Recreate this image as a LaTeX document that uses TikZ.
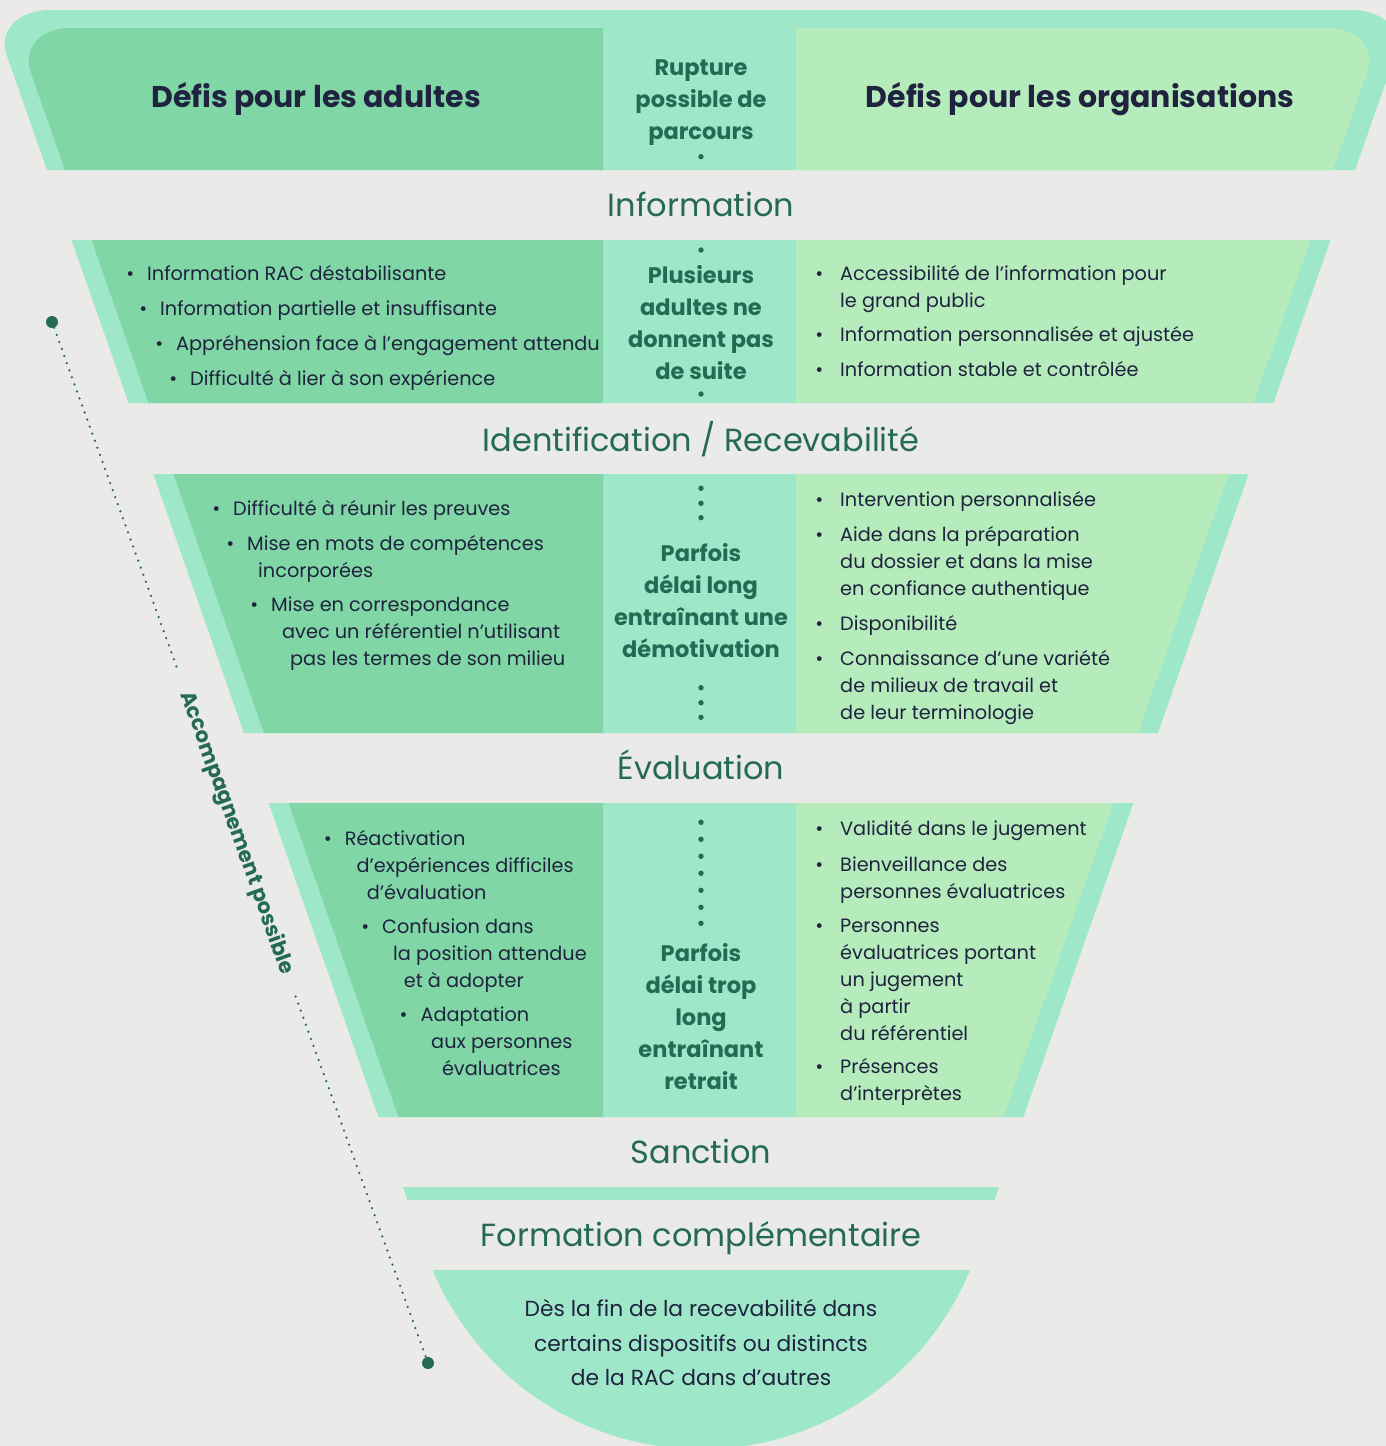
\documentclass[tikz,border=0pt]{standalone}
\usepackage{fontspec}
\setmainfont{Poppins}
\usetikzlibrary{positioning}

\definecolor{bgc}{HTML}{EAEAE8}
\definecolor{mint}{HTML}{9EE7C8}
\definecolor{leftg}{HTML}{80D6A4}
\definecolor{rightg}{HTML}{B6EBBB}
\definecolor{tealtxt}{HTML}{256A55}
\definecolor{navy}{HTML}{1F2340}

% bullet hanging left of the item text
\newcommand\bul[1][13pt]{\rule{0pt}{18pt}\llap{\textbullet\hspace{#1}}}
\newcommand\st{\rule{0pt}{21pt}}

\tikzset{
  stage/.style={font=\fontsize{32}{38}\selectfont, text=tealtxt, inner sep=0pt, anchor=base},
  head/.style={font=\fontsize{30}{36}\selectfont\bfseries, text=navy, inner sep=0pt, anchor=base},
  mid/.style={font=\fontsize{22.5}{32}\selectfont\bfseries, text=tealtxt, align=center, inner sep=0pt, anchor=north},
  item/.style={font=\fontsize{19.3}{27}\selectfont, text=navy, align=left, inner sep=0pt, anchor=north west},
  bowltext/.style={font=\fontsize{21.8}{34.5}\selectfont, text=navy, align=center, inner sep=0pt, anchor=north},
  accdot/.style={circle, fill=tealtxt, inner sep=0pt, minimum size=12pt},
  acclbl/.style={font=\fontsize{21}{25}\selectfont\bfseries, text=tealtxt, inner xsep=24pt, inner ysep=0pt},
  dotline/.style={tealtxt, line width=2.5pt, line cap=round, dash pattern=on 0pt off 7.5pt},
}

\begin{document}
\begin{tikzpicture}[x=1pt,y=-1pt]
\useasboundingbox (0,0) rectangle (1386,1446);
\fill[bgc] (0,0) rectangle (1386,1446);

% top band
\fill[mint] (47,170) -- (6.8,55.3) .. controls (-1.9,30.4) and (18,10) .. (51,10) -- (1351,10) .. controls (1384,10) and (1403.9,30.4) .. (1395.2,55.3) -- (1355,170) -- cycle;
\fill[leftg] (65,170) -- (31.1,73.3) .. controls (22.4,48.4) and (40,28) .. (70.3,28) -- (603,28) -- (603,170) -- cycle;
\fill[rightg] (796,28) -- (1327.7,28) .. controls (1358,28) and (1375.6,48.4) .. (1366.9,73.3) -- (1333,170) -- (796,170) -- cycle;

% funnel bands
\foreach \yt/\yb/\xt/\xb in {240/403/71.5/128.6, 474/733/153.4/244, 803/1117/268.6/378.5}{
  \fill[mint] (\xt,\yt) -- ({1402-\xt},\yt) -- ({1402-\xb},\yb) -- (\xb,\yb) -- cycle;
  \fill[leftg] ({\xt+20},\yt) -- (603,\yt) -- (603,\yb) -- ({\xb+20},\yb) -- cycle;
  \fill[rightg] (796,\yt) -- ({1382-\xt},\yt) -- ({1382-\xb},\yb) -- (796,\yb) -- cycle;
}

% sanction bar and bowl
\fill[mint] (403,1187) -- (999,1187) -- (994.5,1200) -- (407.5,1200) -- cycle;
\fill[mint] (432,1270) -- (970,1270) arc[start angle=22.6, end angle=157.4, radius=291] -- cycle;

% headers
\node[head] (hadu) at (316,107.5) {Défis pour les adultes};
\node[head] (horg) at (1080,107.5) {Défis pour les organisations};

% stages
\node[stage] (info) at (701,216.5) {Information};
\node[stage] (ident) at (701,451) {Identification / Recevabilité};
\node[stage] (eval) at (701,779) {Évaluation};
\node[stage] (sanc) at (701,1163) {Sanction};
\node[stage] (form) at (701,1246.5) {Formation complémentaire};

% middle column
\node[mid] (mrupt) at (701,54) {\st Rupture\\possible de\\parcours};
\node[mid] (minfo) at (701,262) {\st Plusieurs\\adultes ne\\donnent pas\\de suite};
\node[mid] (mident) at (701,540.7) {\st Parfois\\délai long\\entraînant une\\démotivation};
\node[mid] (meval) at (701,940) {\st Parfois\\délai trop\\long\\entraînant\\retrait};
\foreach \y in {156.7,250,394,488.3,503.3,517.7,687.7,702.7,717.3,822.3,839.3,856.3,873.3,890.3,907.3,923.3}
  \fill[tealtxt] (701,\y) circle[radius=2.7];

% adults
\node[item] (a1) at (147,262) {\bul Information RAC déstabilisante};
\node[item] (a2) at (160,297) {\bul Information partielle et insuffisante};
\node[item] (a3) at (176,332) {\bul Appréhension face à l’engagement attendu};
\node[item] (a4) at (190,367) {\bul Difficulté à lier à son expérience};
\node[item] (a5) at (233,497) {\bul Difficulté à réunir les preuves};
\node[item] (a6) at (247,532) {\bul Mise en mots de compétences\\\hspace*{11pt}incorporées};
\node[item] (a7) at (271,593.7) {\bul Mise en correspondance\\\hspace*{11pt}avec un référentiel n’utilisant\\\hspace*{19pt}pas les termes de son milieu};
\node[item] (a8) at (344.6,827) {\bul Réactivation\\\hspace*{11.8pt}d’expériences difficiles\\\hspace*{22pt}d’évaluation};
\node[item] (a9) at (382,915.3) {\bul Confusion dans\\\hspace*{11pt}la position attendue\\\hspace*{21.6pt}et à adopter};
\node[item] (a10) at (420.4,1003.7) {\bul Adaptation\\\hspace*{10.6pt}aux personnes\\\hspace*{21.4pt}évaluatrices};

% organisations
\node[item] (o1) at (840,262) {\bul[17pt]Accessibilité de l’information pour\\le grand public};
\node[item] (o2) at (840,323.7) {\bul[17pt]Information personnalisée et ajustée};
\node[item] (o3) at (840,358.7) {\bul[17pt]Information stable et contrôlée};
\node[item] (o4) at (840,488.7) {\bul[17pt]Intervention personnalisée};
\node[item] (o5) at (840,523.7) {\bul[17pt]Aide dans la préparation\\du dossier et dans la mise\\en confiance authentique};
\node[item] (o6) at (840,612) {\bul[17pt]Disponibilité};
\node[item] (o7) at (840,647) {\bul[17pt]Connaissance d’une variété\\de milieux de travail et\\de leur terminologie};
\node[item] (o8) at (840,817.7) {\bul[17pt]Validité dans le jugement};
\node[item] (o9) at (840,853) {\bul[17pt]Bienveillance des\\personnes évaluatrices};
\node[item] (o10) at (840,914.3) {\bul[17pt]Personnes\\évaluatrices portant\\un jugement\\à partir\\du référentiel};
\node[item] (o11) at (840,1055.3) {\bul[17pt]Présences\\d’interprètes};

% bowl text
\node[bowltext] (ftxt) at (701,1298.7) {\rule{0pt}{18pt}Dès la fin de la recevabilité dans\\certains dispositifs ou distincts\\de la RAC dans d’autres};

% accompagnement
\node[accdot] (acctop) at (52,322) {};
\node[accdot] (accbot) at (428,1363) {};
\node[acclbl, rotate=-70.1] (acclbl) at (236.6,833) {Accompagnement possible};
\draw[dotline] (acctop) -- (acclbl);
\draw[dotline] (acclbl) -- (accbot);
\end{tikzpicture}
\end{document}
